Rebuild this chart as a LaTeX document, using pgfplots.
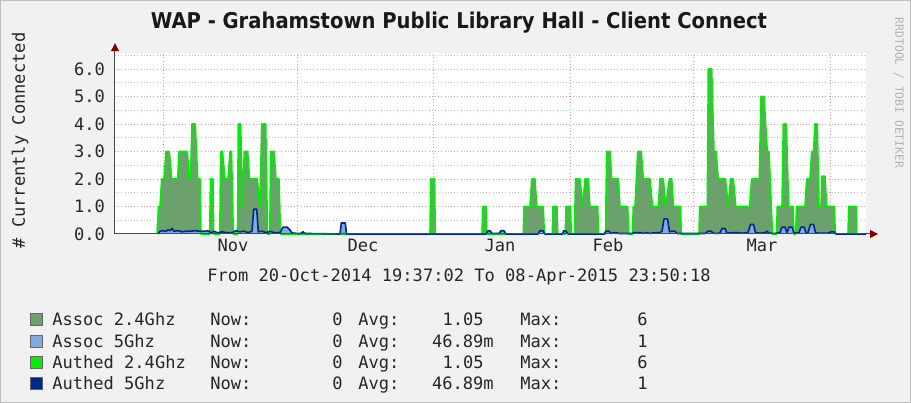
\documentclass[border=0pt]{standalone}
\usepackage{pgfplots}
\pgfplotsset{compat=1.18}
\usepackage{pgfplotstable}
\usepackage{fontspec}
\usetikzlibrary{arrows.meta}
\setmainfont{DejaVu Sans}
\newfontfamily\monofont{DejaVu Sans Mono}
\IfFontExistsTF{DejaVu Sans Condensed Bold}{\newfontfamily\titlefont{DejaVu Sans Condensed Bold}}{\newfontfamily\titlefont{DejaVu Sans}[FakeBold=1]}
\newcommand\mono{\monofont\fontsize{12.8pt}{15pt}\selectfont}
\definecolor{bg}{RGB}{241,241,241}
\definecolor{assocG}{RGB}{108,160,108}
\definecolor{assocB}{RGB}{130,170,222}
\definecolor{authG}{RGB}{0,238,0}
\definecolor{authB}{RGB}{0,40,140}
\definecolor{mgrid}{RGB}{240,150,150}
\definecolor{mingrid}{RGB}{190,190,190}
\definecolor{arrowc}{RGB}{128,0,0}

% x = position along the time axis (Nov 1 = 163, Dec 1 = 297, Jan 1 = 433, Feb 1 = 570, Mar 1 = 693, Apr 1 = 830)
\pgfplotstableread{
x y
157 0
158.5 1
160 1
161.7 2
164 2
166 3
169.3 3
171.7 2
177.7 2
179 3
187.3 3
189.3 2
190.5 2
192 4
195.3 4
197.7 2
200 2
201 0
209.7 0
210.5 2
213 2
213.7 0
219.8 0
220.7 3
222.5 3
225 2
228 2
230 3
231.5 3
233.3 0
237.5 0
238.3 4
240.7 4
242.5 1
244.3 3
247.7 3
249.5 2
257.3 2
260 1
261.7 4
265.7 4
267.5 0
269.8 0
270.7 3
274 3
276 2
279 2
280.5 0
430 0
430.7 2
434.5 2
435.3 0
482 0
482.7 1
486 1
486.8 0
523.3 0
524 1
530 1
531.7 2
535 2
536.7 1
543.3 1
544.3 0
552.3 0
553 1
557 1
557.8 0
565.3 0
566 1
570.5 1
571.3 0
574.5 0
575.5 2
580 2
582.7 1
585 2
588.3 2
590 1
597.7 1
598.5 0
605.5 0
606.7 3
610 3
611.7 2
618.3 2
620 1
627.7 1
628.7 0
632.5 0
633.3 1
635 1
637.7 3
641.3 3
643.3 2
650 2
652.5 1
658.3 1
660 2
663.3 2
665.7 1
669.3 2
671.7 2
673.5 1
680.5 1
681.3 0
699 0
699.7 1
707.3 1
708.3 6
711.7 6
714 3
716 3
718.3 2
725.5 2
728.3 1
730.5 2
733.3 2
735.8 1
749.5 1
751.7 2
759.3 2
761 5
764 5
767.3 3
769 3
772.5 0
776.5 0
777.3 1
782 1
783.3 4
786.3 4
788.7 1
793 1
794 0
795.7 0
796.5 1
805 1
806.7 2
810 2
811.7 3
813.5 3
815 4
817.3 4
819 1
821 1
822 2.1
825 2.1
826.7 1
834.3 1
835.3 0
848 0
848.7 1
856 1
856.8 0
866 0
}\greendata

\pgfplotstableread{
x y
158 0
160 0.1
163 0.12
166 0.1
168 0.15
170 0.12
172 0.2
174 0.1
178 0.12
182 0.08
186 0.1
190 0.1
195 0.12
200 0.1
205 0.1
208 0.12
211 0.04
214 0.1
218 0.04
222 0.08
226 0.05
232 0.05
236 0.12
240 0.08
244 0.1
248 0.05
252 0.1
253.7 0.9
256.7 0.9
258.3 0.08
262 0.1
266 0.05
270 0.1
274 0.05
280 0.05
283 0.25
287 0.25
290 0.15
292 0.04
297 0.02
301 0.02
303 0.08
305 0.02
340 0
341.3 0.4
345.3 0.4
346.5 0
486 0
488 0.12
490 0.12
492 0.02
499 0.02
501 0.12
504 0.12
506 0
538 0
540 0.12
543 0.12
545 0
562 0
564 0.12
566 0.1
568 0
604 0
606 0.1
609 0.1
611 0.02
613 0.05
617 0.05
619 0.02
632 0.02
634 0.05
641 0.05
643 0.02
647 0.05
650 0.02
655 0.05
660 0.05
662 0.1
664 0.55
667.5 0.55
669.5 0.08
672 0.1
675 0.1
677 0.02
700 0.02
705 0.02
708 0.1
711 0.1
714 0.02
720 0.03
722 0.2
725 0.2
727 0.03
733 0.05
738 0.05
742 0.03
748 0.05
750.5 0.35
753.5 0.35
755.5 0.05
760 0.03
765 0.05
767 0.1
769 0.03
775 0.02
780 0.05
782 0.25
785 0.25
787 0.05
789 0.25
792 0.25
794 0.03
799 0.05
801 0.25
804 0.25
806 0.05
808 0.05
810.5 0.35
813.5 0.35
815.5 0.05
818 0.03
828 0.03
831 0.08
834 0.08
836 0
866 0
}\bluedata

\begin{document}
\begin{tikzpicture}
\fill[bg] (0,0) rectangle (683.25pt,-302.25pt);
\draw[black!25, line width=0.75pt] (0.375pt,-0.375pt) rectangle (682.875pt,-301.875pt);
\begin{axis}[
  scale only axis, anchor=south west, at={(86.25pt,-175.5pt)},
  width=563.25pt, height=136.125pt,
  xmin=115, xmax=866, ymin=0, ymax=6.6,
  clip=false,
  axis background/.style={fill=white},
  axis line style={draw=none},
  xtick={233,363,500,608,762}, xticklabels={Nov,Dec,Jan,Feb,Mar},
  extra x ticks={163,297,433,570,693,830}, extra x tick labels={},
  extra x tick style={grid=major},
  ytick={0,1,2,3,4,5,6}, yticklabels={0.0,1.0,2.0,3.0,4.0,5.0,6.0},
  minor ytick={0.5,1.5,2.5,3.5,4.5,5.5,6.5},
  ymajorgrids, yminorgrids,
  major grid style={mgrid, dotted, line width=0.75pt},
  minor grid style={mingrid, dotted, line width=0.75pt},
  major tick length=0pt, minor tick length=0pt,
  tick label style={font=\mono, text=black!85},
  yticklabel style={xshift=-4pt},
  ylabel={\# Currently Connected},
  ylabel style={at={([xshift=-71.25pt,yshift=2pt]rel axis cs:0,0.5)}, anchor=center, font=\mono, text=black!85},
]
\addplot[fill=assocG, draw=none] table[x=x,y=y] {\greendata} \closedcycle;
\addplot[fill=assocB, draw=none] table[x=x,y=y] {\bluedata} \closedcycle;
\addplot[authG, line width=1.2pt, line join=round] table[x=x,y=y] {\greendata};
\addplot[authB, line width=1.2pt, line join=round] table[x=x,y=y] {\bluedata};
\draw[black!70, line width=0.75pt, -{Triangle[length=6pt,width=6pt,color=arrowc]}] (rel axis cs:0,0) -- ([xshift=9pt]rel axis cs:1,0);
\draw[black!70, line width=0.75pt, -{Triangle[length=6pt,width=6pt,color=arrowc]}] (rel axis cs:0,0) -- ([yshift=7pt]rel axis cs:0,1);
\end{axis}
\begin{scope}[x=0.75pt,y=-0.75pt]
\node[font=\titlefont\fontsize{16.3pt}{19pt}\selectfont, text=black!90] at (459,23) {WAP - Grahamstown Public Library Hall - Client Connect};
\node[font=\monofont\fontsize{8.5pt}{10pt}\selectfont, text=black!30, rotate=-90] at (899,93) {RRDTOOL / TOBI OETIKER};
\node[font=\mono, text=black!85] at (459,277) {From 20-Oct-2014 19:37:02 To 08-Apr-2015 23:50:18};
\foreach \yy/\col/\name/\avg/\avgx/\mx in {319/assocG/Assoc 2.4Ghz/1.05/484/6, 341/assocB/Assoc 5Ghz/46.89m/494/1, 362/authG/Authed 2.4Ghz/1.05/484/6, 383/authB/Authed 5Ghz/46.89m/494/1}{
  \filldraw[fill=\col, draw=black!60, line width=0.6pt] (30,\yy-6) rectangle (42,\yy+6);
  \node[font=\mono, text=black!85, anchor=base west, inner sep=0pt] at (52,\yy+6) {\name};
  \node[font=\mono, text=black!85, anchor=base west, inner sep=0pt] at (210,\yy+6) {Now:};
  \node[font=\mono, text=black!85, anchor=base east, inner sep=0pt] at (343,\yy+6) {0};
  \node[font=\mono, text=black!85, anchor=base west, inner sep=0pt] at (358,\yy+6) {Avg:};
  \node[font=\mono, text=black!85, anchor=base east, inner sep=0pt] at (\avgx,\yy+6) {\avg};
  \node[font=\mono, text=black!85, anchor=base west, inner sep=0pt] at (520,\yy+6) {Max:};
  \node[font=\mono, text=black!85, anchor=base east, inner sep=0pt] at (648,\yy+6) {\mx};
}
\end{scope}
\end{tikzpicture}
\end{document}
